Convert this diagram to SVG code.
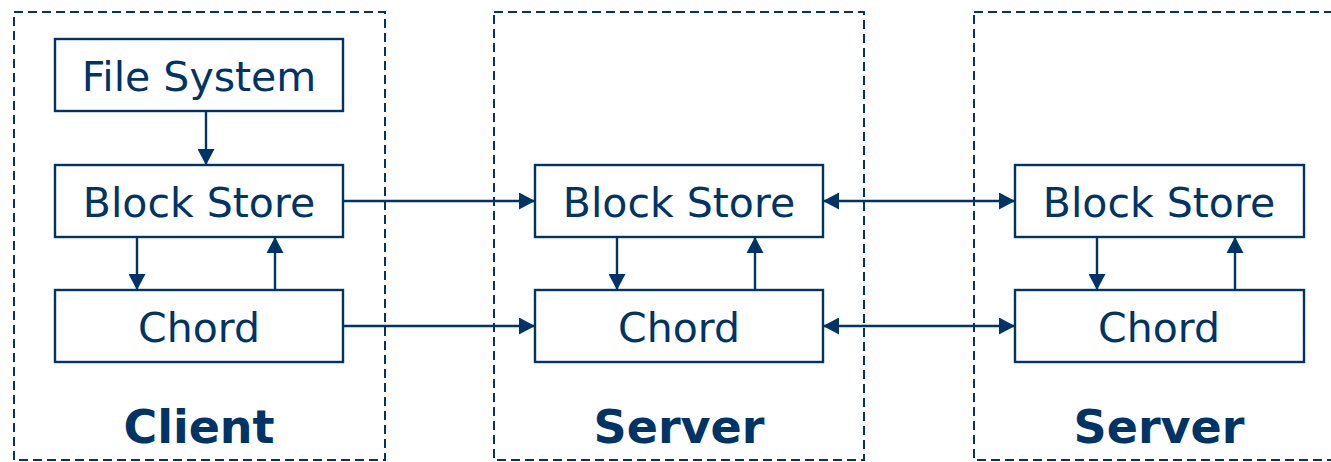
<svg xmlns="http://www.w3.org/2000/svg" width="1331" height="462" viewBox="0 0 1331 462">
  <defs>
    <marker id="arrow" viewBox="0 0 16 17" refX="16" refY="8.5" markerWidth="16" markerHeight="17" markerUnits="userSpaceOnUse" orient="auto-start-reverse">
      <path d="M0,0 L16,8.5 L0,17 Z" fill="#003366"/>
    </marker>
  </defs>
  <style>
    .tier { fill: none; stroke: #003366; stroke-width: 2; stroke-dasharray: 9 5; }
    .box { fill: #ffffff; stroke: #003366; stroke-width: 2.4; }
    .lbl { font-family: "DejaVu Sans", Verdana, sans-serif; font-size: 41px; fill: #003366; text-anchor: middle; }
    .title { font-family: "DejaVu Sans", Verdana, sans-serif; font-size: 46px; font-weight: bold; fill: #003366; text-anchor: middle; }
    .link { fill: none; stroke: #003366; stroke-width: 2.4; }
  </style>
  <rect width="1331" height="462" fill="#ffffff"/>

  <!-- tier frames -->
  <g id="client">
    <rect class="tier" x="14" y="12" width="371" height="448"/>
    <text class="title" x="199" y="443">Client</text>
  </g>
  <g id="server-1">
    <rect class="tier" x="494" y="12" width="370" height="448"/>
    <text class="title" x="679" y="443">Server</text>
  </g>
  <g id="server-2">
    <rect class="tier" x="974" y="12" width="370" height="448"/>
    <text class="title" x="1159" y="443">Server</text>
  </g>

  <!-- client components -->
  <g id="client-fs">
    <rect class="box" x="55" y="39" width="288" height="72"/>
    <text class="lbl" x="199" y="91">File System</text>
  </g>
  <g id="client-bs">
    <rect class="box" x="55" y="165" width="288" height="72"/>
    <text class="lbl" x="199" y="217">Block Store</text>
  </g>
  <g id="client-chord">
    <rect class="box" x="55" y="290" width="288" height="72"/>
    <text class="lbl" x="199" y="342">Chord</text>
  </g>

  <!-- server 1 components -->
  <g id="s1-bs">
    <rect class="box" x="535" y="165" width="288" height="72"/>
    <text class="lbl" x="679" y="217">Block Store</text>
  </g>
  <g id="s1-chord">
    <rect class="box" x="535" y="290" width="288" height="72"/>
    <text class="lbl" x="679" y="342">Chord</text>
  </g>

  <!-- server 2 components -->
  <g id="s2-bs">
    <rect class="box" x="1015" y="165" width="289" height="72"/>
    <text class="lbl" x="1159" y="217">Block Store</text>
  </g>
  <g id="s2-chord">
    <rect class="box" x="1015" y="290" width="289" height="72"/>
    <text class="lbl" x="1159" y="342">Chord</text>
  </g>

  <!-- connectors -->
  <g id="connectors">
    <line class="link" x1="206" y1="111" x2="206" y2="165" marker-end="url(#arrow)"/>
    <line class="link" x1="137" y1="237" x2="137" y2="290" marker-end="url(#arrow)"/>
    <line class="link" x1="275" y1="290" x2="275" y2="237" marker-end="url(#arrow)"/>

    <line class="link" x1="617" y1="237" x2="617" y2="290" marker-end="url(#arrow)"/>
    <line class="link" x1="755" y1="290" x2="755" y2="237" marker-end="url(#arrow)"/>

    <line class="link" x1="1097" y1="237" x2="1097" y2="290" marker-end="url(#arrow)"/>
    <line class="link" x1="1235" y1="290" x2="1235" y2="237" marker-end="url(#arrow)"/>

    <line class="link" x1="343" y1="201" x2="535" y2="201" marker-end="url(#arrow)"/>
    <line class="link" x1="343" y1="326" x2="535" y2="326" marker-end="url(#arrow)"/>

    <line class="link" x1="823" y1="201" x2="1015" y2="201" marker-start="url(#arrow)" marker-end="url(#arrow)"/>
    <line class="link" x1="823" y1="326" x2="1015" y2="326" marker-start="url(#arrow)" marker-end="url(#arrow)"/>
  </g>
</svg>
